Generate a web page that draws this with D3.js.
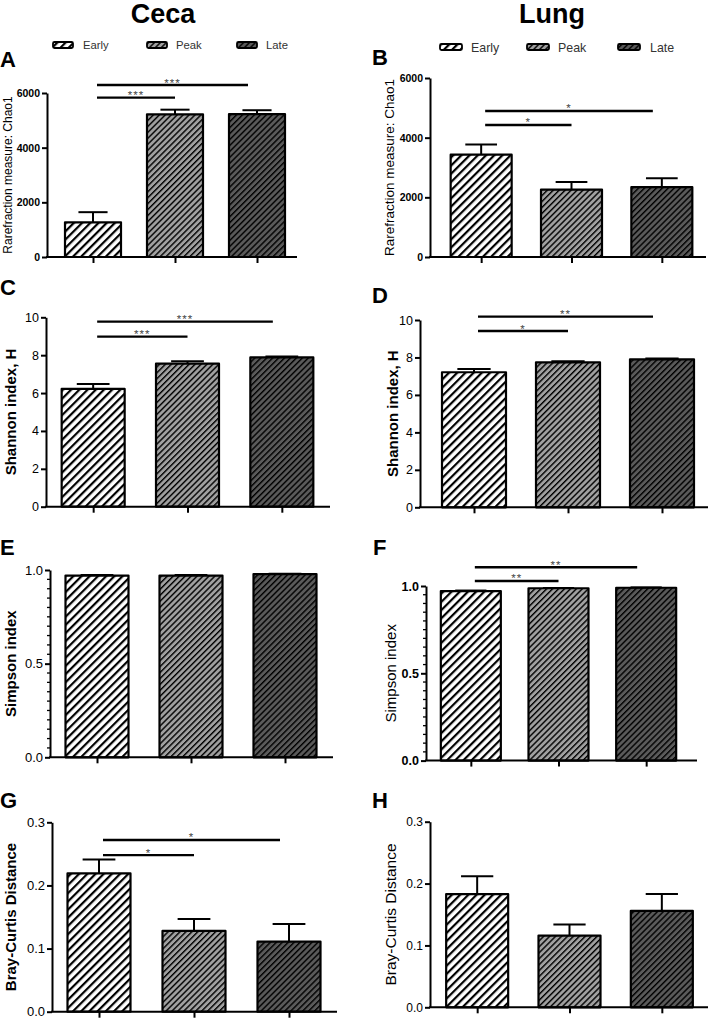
<!DOCTYPE html>
<html><head><meta charset="utf-8">
<script src="https://cdn.jsdelivr.net/npm/d3@7"></script>
<style>
body{margin:0;background:#fff}
svg{display:block}
text{font-family:"Liberation Sans",Arial,Helvetica,sans-serif}
</style>
</head><body>
<svg id="chart" width="711" height="1021"></svg>
<script>
// ---------- DATA ----------
const groups = ["Early", "Peak", "Late"];
const columnTitles = ["Ceca", "Lung"];

const cecaChao1 = [1270, 5220, 5230];
const cecaChao1Err = [370, 170, 140];
const lungChao1 = [3430, 2260, 2340];
const lungChao1Err = [340, 250, 300];

const cecaShannon = [6.22, 7.55, 7.88];
const cecaShannonErr = [0.26, 0.13, 0.05];
const lungShannon = [7.21, 7.74, 7.90];
const lungShannonErr = [0.17, 0.06, 0.04];

const cecaSimpson = [0.970, 0.970, 0.978];
const cecaSimpsonErr = [0.003, 0.003, 0.002];
const lungSimpson = [0.971, 0.987, 0.990];
const lungSimpsonErr = [0.003, 0.002, 0.002];

const cecaBray = [0.219, 0.128, 0.111];
const cecaBrayErr = [0.022, 0.019, 0.028];
const lungBray = [0.183, 0.116, 0.156];
const lungBrayErr = [0.029, 0.018, 0.027];

const chao1Ticks = [0, 2000, 4000, 6000];
const shannonTicks = [0, 2, 4, 6, 8, 10];
const simpsonTicks = [0, 0.5, 1.0];
const brayTicks = [0, 0.1, 0.2, 0.3];

// significance brackets: from group index, to group index, height in data units, label
const cecaChao1Sig = [[0, 1, 5830, "***"], [0, 2, 6290, "***"]];
const lungChao1Sig = [[0, 1, 4425, "*"], [0, 2, 4895, "*"]];
const cecaShannonSig = [[0, 1, 8.98, "***"], [0, 2, 9.77, "***"]];
const lungShannonSig = [[0, 1, 9.41, "*"], [0, 2, 10.18, "**"]];
const cecaSimpsonSig = [];
const lungSimpsonSig = [[0, 1, 1.029, "**"], [0, 2, 1.107, "**"]];
const cecaBraySig = [[0, 1, 0.248, "*"], [0, 2, 0.272, "*"]];
const lungBraySig = [];

// ---------- STYLE / LAYOUT ----------
const svg = d3.select("#chart");
const defs = svg.append("defs");
const groupFill = {Early: "#ffffff", Peak: "#a0a0a0", Late: "#5a5a5a"};
function hatch(id, bg, spacing, w) {
  const p = defs.append("pattern").attr("id", id)
    .attr("patternUnits", "userSpaceOnUse")
    .attr("width", spacing).attr("height", spacing)
    .attr("patternTransform", "rotate(45)");
  p.append("rect").attr("width", spacing).attr("height", spacing).attr("fill", bg);
  p.append("rect").attr("width", w).attr("height", spacing).attr("fill", "#000");
}
hatch("h-Early", groupFill.Early, 5.8, 2.2);
hatch("h-Peak", groupFill.Peak, 4.2, 1.4);
hatch("h-Late", groupFill.Late, 4.2, 1.4);

const panels = [
  {letter: "A", v: cecaChao1, e: cecaChao1Err, sig: cecaChao1Sig, ticks: chao1Ticks, fmt: d3.format("d"),
   yLabel: "Rarefraction measure: Chao1", labW: "normal", labSize: 12, labX: 8,
   tickW: "bold", tickSize: 10.5, axisX: 47, axisEnd: 297, pr: [52, 298], bw: 56, y0: 257, yTop: 93,
   lx: 0, ly: 67, minor: false},
  {letter: "B", v: lungChao1, e: lungChao1Err, sig: lungChao1Sig, ticks: chao1Ticks, fmt: d3.format("d"),
   yLabel: "Rarefraction measure: Chao1", labW: "normal", labSize: 13.5, labX: 389,
   tickW: "bold", tickSize: 10.5, axisX: 430, axisEnd: 706, pr: [436, 707], bw: 61, y0: 257, yTop: 78,
   lx: 372, ly: 65, minor: false},
  {letter: "C", v: cecaShannon, e: cecaShannonErr, sig: cecaShannonSig, ticks: shannonTicks, fmt: d3.format("d"),
   yLabel: "Shannon index, H", labW: "bold", labSize: 15, labX: 10,
   tickW: "normal", tickSize: 12.5, axisX: 46, axisEnd: 330, pr: [46, 329], bw: 63, y0: 506.7, yTop: 317.3,
   lx: 0, ly: 295, minor: false},
  {letter: "D", v: lungShannon, e: lungShannonErr, sig: lungShannonSig, ticks: shannonTicks, fmt: d3.format("d"),
   yLabel: "Shannon index, H", labW: "bold", labSize: 15, labX: 392,
   tickW: "normal", tickSize: 12.5, axisX: 420, axisEnd: 708, pr: [427, 709], bw: 64, y0: 507.3, yTop: 320,
   lx: 372, ly: 303, minor: false},
  {letter: "E", v: cecaSimpson, e: cecaSimpsonErr, sig: cecaSimpsonSig, ticks: simpsonTicks, fmt: d3.format(".1f"),
   yLabel: "Simpson index", labW: "bold", labSize: 15, labX: 10,
   tickW: "normal", tickSize: 13, axisX: 50, axisEnd: 333, pr: [50, 332], bw: 63, y0: 757.3, yTop: 570,
   lx: 0, ly: 555, minor: true},
  {letter: "F", v: lungSimpson, e: lungSimpsonErr, sig: lungSimpsonSig, ticks: simpsonTicks, fmt: d3.format(".1f"),
   yLabel: "Simpson index", labW: "normal", labSize: 15, labX: 390,
   tickW: "bold", tickSize: 12.5, axisX: 426, axisEnd: 697, pr: [427, 690], bw: 60, y0: 760.6, yTop: 586,
   lx: 373, ly: 555, minor: true},
  {letter: "G", v: cecaBray, e: cecaBrayErr, sig: cecaBraySig, ticks: brayTicks, fmt: d3.format(".1f"),
   yLabel: "Bray-Curtis Distance", labW: "bold", labSize: 15, labX: 10,
   tickW: "normal", tickSize: 13, axisX: 52, axisEnd: 337, pr: [51.5, 336.5], bw: 63, y0: 1011.7, yTop: 822.3,
   lx: 0, ly: 808, minor: false},
  {letter: "H", v: lungBray, e: lungBrayErr, sig: lungBraySig, ticks: brayTicks, fmt: d3.format(".1f"),
   yLabel: "Bray-Curtis Distance", labW: "normal", labSize: 15.5, labX: 390,
   tickW: "normal", tickSize: 12, axisX: 430, axisEnd: 708, pr: [431, 708], bw: 62, y0: 1007.3, yTop: 821.7,
   lx: 372, ly: 808, minor: false}
];

// ---------- DRAW ----------
panels.forEach(p => {
  const g = svg.append("g");
  const yMax = p.ticks[p.ticks.length - 1];
  const y = d3.scaleLinear().domain([0, yMax]).range([p.y0, p.yTop]);
  const x = d3.scalePoint().domain(groups).range(p.pr).padding(0.5);

  // panel letter
  g.append("text").attr("x", p.lx).attr("y", p.ly).attr("font-size", 22).attr("font-weight", "bold")
    .attr("fill", "#000").text(p.letter);

  // bars
  g.selectAll("rect.bar").data(groups).join("rect").attr("class", "bar")
    .attr("x", d => x(d) - p.bw / 2).attr("width", p.bw)
    .attr("y", (d, i) => y(p.v[i])).attr("height", (d, i) => p.y0 - y(p.v[i]))
    .attr("fill", d => `url(#h-${d})`).attr("stroke", "#000").attr("stroke-width", 2.2)
    .attr("stroke-linejoin", "round");

  // error bars (upper only)
  groups.forEach((d, i) => {
    const cx = x(d), top = y(p.v[i] + p.e[i]);
    g.append("line").attr("x1", cx).attr("x2", cx).attr("y1", y(p.v[i])).attr("y2", top)
      .attr("stroke", "#000").attr("stroke-width", 2);
    g.append("line").attr("x1", cx - p.bw * 0.26).attr("x2", cx + p.bw * 0.26).attr("y1", top).attr("y2", top)
      .attr("stroke", "#000").attr("stroke-width", 2);
  });

  // y axis
  const ya = g.append("g").attr("transform", `translate(${p.axisX},0)`)
    .call(d3.axisLeft(y).tickValues(p.ticks).tickFormat(p.fmt).tickSize(5).tickSizeOuter(0).tickPadding(2));
  ya.select(".domain").attr("stroke", "#000").attr("stroke-width", 2);
  ya.selectAll(".tick line").attr("stroke", "#000").attr("stroke-width", 2);
  ya.selectAll(".tick text").attr("font-size", p.tickSize).attr("font-weight", p.tickW)
    .attr("fill", "#000").style("font-family", '"Liberation Sans",Arial,sans-serif');
  if (p.minor) {
    const minorTicks = d3.range(0, yMax + 1e-9, 0.05).filter(t => !p.ticks.some(m => Math.abs(m - t) < 1e-6));
    g.selectAll("line.minor").data(minorTicks).join("line").attr("class", "minor")
      .attr("x1", p.axisX - 3).attr("x2", p.axisX).attr("y1", d => y(d)).attr("y2", d => y(d))
      .attr("stroke", "#000").attr("stroke-width", 1.3);
  }

  // x axis
  g.append("line").attr("x1", p.axisX - 1).attr("x2", p.axisEnd).attr("y1", p.y0).attr("y2", p.y0)
    .attr("stroke", "#000").attr("stroke-width", 2);
  const xa = g.append("g").attr("transform", `translate(0,${p.y0})`)
    .call(d3.axisBottom(x).tickSize(6).tickFormat(""));
  xa.select(".domain").remove();
  xa.selectAll(".tick line").attr("stroke", "#000").attr("stroke-width", 2);

  // y label
  const yMid = (p.y0 + p.yTop) / 2;
  g.append("text").attr("transform", `translate(${p.labX},${yMid}) rotate(-90)`)
    .attr("text-anchor", "middle").attr("dominant-baseline", "central")
    .attr("font-size", p.labSize).attr("font-weight", p.labW).attr("fill", "#000").text(p.yLabel);

  // significance brackets
  p.sig.forEach(([a, b, h, lab]) => {
    const x1 = x(groups[a]) + 4;
    const x2 = x(groups[b]) - (b - a - 1) * 9;
    const yy = y(h);
    g.append("line").attr("x1", x1).attr("x2", x2).attr("y1", yy).attr("y2", yy)
      .attr("stroke", "#000").attr("stroke-width", 2.4);
    g.append("text").attr("x", (x1 + x2) / 2).attr("y", yy + 1.5).attr("text-anchor", "middle")
      .attr("font-size", 11.5).attr("fill", "#444").attr("letter-spacing", 1).text(lab);
  });
});

// column titles
const titleX = [163, 552];
columnTitles.forEach((t, i) => {
  svg.append("text").attr("x", titleX[i]).attr("y", 23).attr("text-anchor", "middle")
    .attr("font-size", 27).attr("font-weight", "bold").attr("fill", "#000").text(t);
});

// legends
const legends = [
  {sx: [53, 147, 237], sy: 42, sw: 20, tx: [83, 176, 266], ty: 49, fs: 11.3},
  {sx: [440, 527, 618], sy: 44, sw: 22, tx: [471, 558, 650], ty: 51.5, fs: 12.4}
];
legends.forEach(L => {
  groups.forEach((gname, i) => {
    svg.append("rect").attr("x", L.sx[i]).attr("y", L.sy).attr("width", L.sw).attr("height", 6)
      .attr("rx", 1.5).attr("fill", `url(#h-${gname})`).attr("stroke", "#000").attr("stroke-width", 1.8);
    svg.append("text").attr("x", L.tx[i]).attr("y", L.ty).attr("font-size", L.fs).attr("fill", "#333").text(gname);
  });
});
</script>
</body></html>
